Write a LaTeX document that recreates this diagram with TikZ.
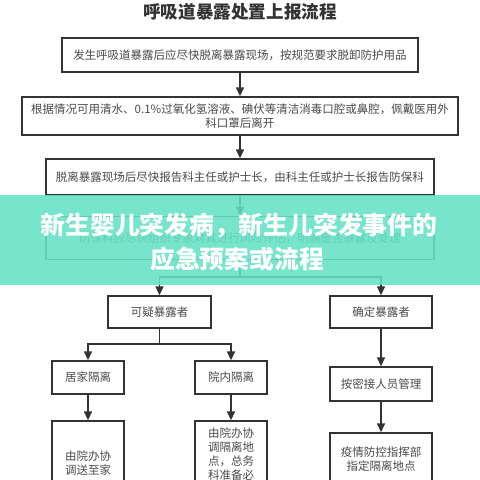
\documentclass[tikz,border=0pt]{standalone}
\usepackage{fontspec}
\setmainfont{Noto Sans CJK SC}
\usetikzlibrary{arrows.meta}
\definecolor{lnc}{HTML}{333333}
\definecolor{txc}{HTML}{4A4A4A}
\definecolor{bannerc}{RGB}{100,226,196}
\begin{document}
\begin{tikzpicture}[x=1pt,y=-1pt,
  box/.style={draw=lnc,line width=1.4pt,fill=white,inner sep=0pt,text=txc,font=\fontsize{11.5}{14}\selectfont,align=center},
  lbl/.style={text=txc,font=\fontsize{11.5}{14}\selectfont,align=center,inner sep=0pt},
  arr/.style={draw=lnc,line width=1.6pt,-{Triangle[length=9pt,width=8pt]}},
  conn/.style={draw=lnc,line width=1.6pt}]
\useasboundingbox (0,0) rectangle (480,480);
\fill[white] (0,0) rectangle (480,480);
\begin{scope}
\clip (0,0) rectangle (480,480);
\node[text=lnc,font=\bfseries\fontsize{17.6}{20}\selectfont] (title) at (240,12) {呼吸道暴露处置上报流程};
\node[box,minimum width=356pt,minimum height=34pt] (b1) at (240,55) {发生呼吸道暴露后应尽快脱离暴露现场，按规范要求脱卸防护用品};
\node[box,minimum width=436pt,minimum height=38pt] (b2) at (240,116) {根据情况可用清水、0.1\%过氧化氢溶液、碘伏等清洁消毒口腔或鼻腔，佩戴医用外\\科口罩后离开};
\node[box,minimum width=388pt,minimum height=36pt] (b3) at (240,177) {脱离暴露现场后尽快报告科主任或护士长，由科主任或护士长报告防保科};
\node[box,minimum width=388pt,minimum height=43pt] (b4) at (240,238) {防保科应尽快组织专家对其进行风险评估，明确是否暴露及处理};
\node[box,minimum width=103pt,minimum height=32pt] (s1) at (159.5,312) {可疑暴露者};
\node[box,minimum width=102pt,minimum height=32pt] (c1) at (381,312) {确定暴露者};
\node[box,minimum width=72pt,minimum height=33pt] (h1) at (88,377.5) {居家隔离};
\node[box,minimum width=72pt,minimum height=33pt] (y1) at (231,377.5) {院内隔离};
\node[box,minimum width=102pt,minimum height=34pt] (c2) at (381,384) {按密接人员管理};
\node[box,minimum width=72pt,minimum height=100pt] (h2) at (88,471) {};
\node[lbl] (h2t) at (88,463) {由院办协\\调送至家};
\node[box,minimum width=72pt,minimum height=100pt] (y2) at (231,471) {};
\node[lbl,anchor=north] (y2t) at (231,428) {由院办协\\调隔离地\\点，总务\\科准备必};
\node[box,minimum width=102pt,minimum height=100pt] (c3) at (381,483) {};
\node[lbl] (c3t) at (381,459) {疫情防控指挥部\\指定隔离地点};
\draw[arr] (b1) -- (b2);
\draw[arr] (b2) -- (b3);
\draw[arr] (b3) -- (b4);
\coordinate (j1) at (240,277);
\draw[conn] (b4.south) -- (j1);
\draw[arr] (j1) -| (s1.north);
\draw[arr] (j1) -| (c1.north);
\coordinate (j2) at (159.5,344);
\draw[conn] (s1.south) -- (j2);
\draw[arr] (j2) -| (h1.north);
\draw[arr] (j2) -| (y1.north);
\draw[arr] (h1) -- (h2);
\draw[arr] (y1) -- (y2);
\draw[arr] (c1) -- (c2);
\draw[arr] (c2) -- (c3);
\fill[bannerc,fill opacity=0.88] (0,195) rectangle (480,285);
\node[text=white,font=\bfseries\fontsize{24.8}{28}\selectfont] (bt1) at (239,226) {新生婴儿突发病，新生儿突发事件的};
\node[text=white,font=\bfseries\fontsize{24.8}{28}\selectfont] (bt2) at (237,259) {应急预案或流程};
\end{scope}
\end{tikzpicture}
\end{document}
